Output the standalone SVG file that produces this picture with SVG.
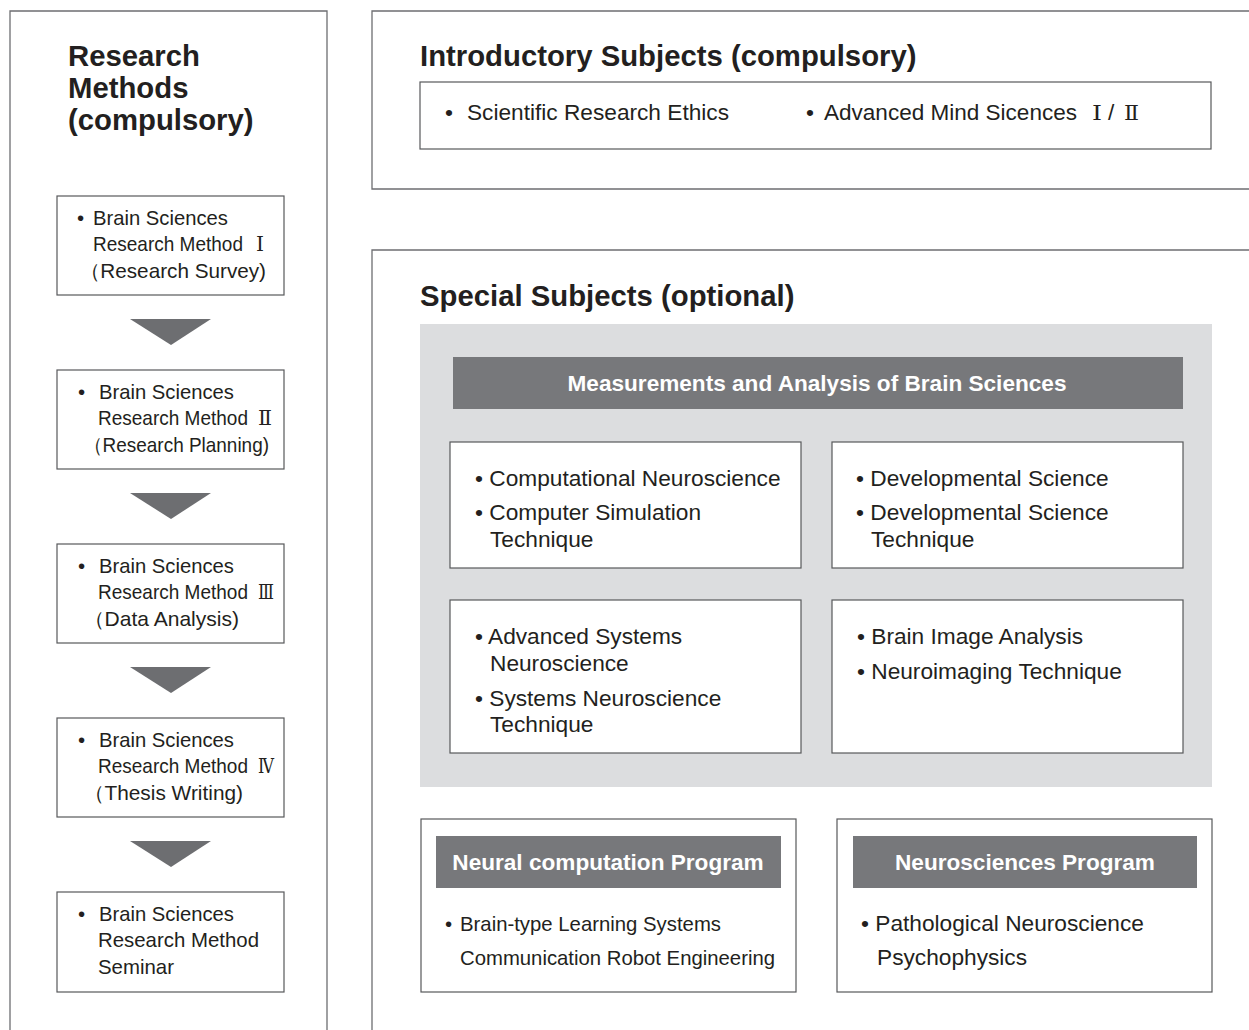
<svg xmlns="http://www.w3.org/2000/svg" width="1249" height="1030" viewBox="0 0 1249 1030">
<style>
.frame{fill:#fff;stroke:#6d6e71;stroke-width:1.3}
.box{fill:#fff;stroke:#58595b;stroke-width:1.2}
.panel{fill:#dcdddf}
.bar{fill:#77787b}
.h{font-family:"Liberation Sans",Arial,sans-serif;font-weight:bold;font-size:29.3px;fill:#231f20}
.t{font-family:"Liberation Sans",Arial,sans-serif;font-size:20.4px;fill:#231f20}
.m{font-family:"Liberation Sans",Arial,sans-serif;font-size:22.7px;fill:#231f20}
.w{font-family:"Liberation Sans",Arial,sans-serif;font-weight:bold;font-size:22.6px;fill:#fff;text-anchor:middle}
.r{font-family:"DejaVu Serif","Liberation Serif",serif;font-size:20px;fill:#231f20}
.arrow{fill:#6d6e71}
</style>
<rect width="1249" height="1030" fill="#fff"/>
<g id="research-methods">
<path class="frame" d="M10,1031 V11 H327 V1031"/>
<text class="h" x="68" y="66">Research</text>
<text class="h" x="68" y="98">Methods</text>
<text class="h" x="68" y="130">(compulsory)</text>
</g>
<g id="rm1">
<rect class="box" x="57" y="196" width="227" height="99"/>
<text class="t" x="77" y="225">•</text><text class="t" x="93" y="225" textLength="135" lengthAdjust="spacingAndGlyphs">Brain Sciences</text>
<text class="t" x="93" y="251" textLength="150" lengthAdjust="spacingAndGlyphs">Research Method</text>
<text class="r" x="256" y="251" textLength="8" lengthAdjust="spacingAndGlyphs">Ⅰ</text>
<text class="t" x="80" y="278" textLength="186" lengthAdjust="spacingAndGlyphs">（Research Survey)</text>
</g>
<g id="rm2">
<rect class="box" x="57" y="370" width="227" height="99"/>
<text class="t" x="78" y="399">•</text><text class="t" x="99" y="399" textLength="135" lengthAdjust="spacingAndGlyphs">Brain Sciences</text>
<text class="t" x="98" y="425" textLength="150" lengthAdjust="spacingAndGlyphs">Research Method</text>
<text class="r" x="258" y="425" textLength="14" lengthAdjust="spacingAndGlyphs">Ⅱ</text>
<text class="t" x="84" y="452" textLength="185" lengthAdjust="spacingAndGlyphs">（Research Planning)</text>
</g>
<g id="rm3">
<rect class="box" x="57" y="544" width="227" height="99"/>
<text class="t" x="78" y="573">•</text><text class="t" x="99" y="573" textLength="135" lengthAdjust="spacingAndGlyphs">Brain Sciences</text>
<text class="t" x="98" y="599" textLength="150" lengthAdjust="spacingAndGlyphs">Research Method</text>
<text class="r" x="258" y="599" textLength="16" lengthAdjust="spacingAndGlyphs">Ⅲ</text>
<text class="t" x="84" y="626" textLength="155" lengthAdjust="spacingAndGlyphs">（Data Analysis)</text>
</g>
<g id="rm4">
<rect class="box" x="57" y="718" width="227" height="99"/>
<text class="t" x="78" y="747">•</text><text class="t" x="99" y="747" textLength="135" lengthAdjust="spacingAndGlyphs">Brain Sciences</text>
<text class="t" x="98" y="773" textLength="150" lengthAdjust="spacingAndGlyphs">Research Method</text>
<text class="r" x="258" y="773" textLength="16" lengthAdjust="spacingAndGlyphs">Ⅳ</text>
<text class="t" x="84" y="800" textLength="159" lengthAdjust="spacingAndGlyphs">（Thesis Writing)</text>
</g>
<g id="rm5">
<rect class="box" x="57" y="892" width="227" height="100"/>
<text class="t" x="78" y="921">•</text><text class="t" x="99" y="921" textLength="135" lengthAdjust="spacingAndGlyphs">Brain Sciences</text>
<text class="t" x="98" y="947" textLength="161" lengthAdjust="spacingAndGlyphs">Research Method</text>
<text class="t" x="98" y="974">Seminar</text>
</g>
<g id="connectors">
<polygon class="arrow" points="130,319 211,319 171,345"/>
<polygon class="arrow" points="130,493 211,493 171,519"/>
<polygon class="arrow" points="130,667 211,667 171,693"/>
<polygon class="arrow" points="130,841 211,841 171,867"/>
</g>
<g id="introductory">
<path class="frame" d="M1250,11 H372 V189 H1250"/>
<text class="h" x="420" y="66">Introductory Subjects (compulsory)</text>
<rect class="box" x="420" y="82" width="791" height="67"/>
<text class="m" x="445" y="120">•</text><text class="m" x="467" y="120" textLength="262" lengthAdjust="spacingAndGlyphs">Scientific Research Ethics</text>
<text class="m" x="806" y="120">•</text><text class="m" x="824" y="120" textLength="253" lengthAdjust="spacingAndGlyphs">Advanced Mind Sicences</text>
<text class="r" x="1092" y="120" textLength="10" lengthAdjust="spacingAndGlyphs">Ⅰ</text>
<text class="m" x="1108" y="120">/</text>
<text class="r" x="1124" y="120" textLength="15" lengthAdjust="spacingAndGlyphs">Ⅱ</text>
</g>
<g id="special">
<path class="frame" d="M1250,250 H372 V1031"/>
<text class="h" x="420" y="306">Special Subjects (optional)</text>
<rect class="panel" x="420" y="324" width="792" height="463"/>
</g>
<g id="measurements">
<rect class="bar" x="453" y="357" width="730" height="52"/>
<text class="w" x="817" y="391">Measurements and Analysis of Brain Sciences</text>
</g>
<g id="box-computational">
<rect class="box" x="450" y="442" width="351" height="126"/>
<text class="m" x="475" y="486">• Computational Neuroscience</text>
<text class="m" x="475" y="520">• Computer Simulation</text>
<text class="m" x="490" y="547">Technique</text>
</g>
<g id="box-developmental">
<rect class="box" x="832" y="442" width="351" height="126"/>
<text class="m" x="856" y="486">• Developmental Science</text>
<text class="m" x="856" y="520">• Developmental Science</text>
<text class="m" x="871" y="547">Technique</text>
</g>
<g id="box-systems">
<rect class="box" x="450" y="600" width="351" height="153"/>
<text class="m" x="475" y="644">• Advanced Systems</text>
<text class="m" x="490" y="671">Neuroscience</text>
<text class="m" x="475" y="706">• Systems Neuroscience</text>
<text class="m" x="490" y="732">Technique</text>
</g>
<g id="box-imaging">
<rect class="box" x="832" y="600" width="351" height="153"/>
<text class="m" x="857" y="644">• Brain Image Analysis</text>
<text class="m" x="857" y="679">• Neuroimaging Technique</text>
</g>
<g id="neural-computation">
<rect class="box" x="421" y="819" width="375" height="173"/>
<rect class="bar" x="436" y="836" width="345" height="52"/>
<text class="w" x="608" y="870">Neural computation Program</text>
<text class="t" x="445" y="931">•</text><text class="t" x="460" y="931" textLength="261" lengthAdjust="spacingAndGlyphs">Brain-type Learning Systems</text>
<text class="t" x="460" y="965" textLength="315" lengthAdjust="spacingAndGlyphs">Communication Robot Engineering</text>
</g>
<g id="neurosciences">
<rect class="box" x="837" y="819" width="375" height="173"/>
<rect class="bar" x="853" y="836" width="344" height="52"/>
<text class="w" x="1025" y="870">Neurosciences Program</text>
<text class="m" x="861" y="931">• Pathological Neuroscience</text>
<text class="m" x="877" y="965">Psychophysics</text>
</g>
</svg>
